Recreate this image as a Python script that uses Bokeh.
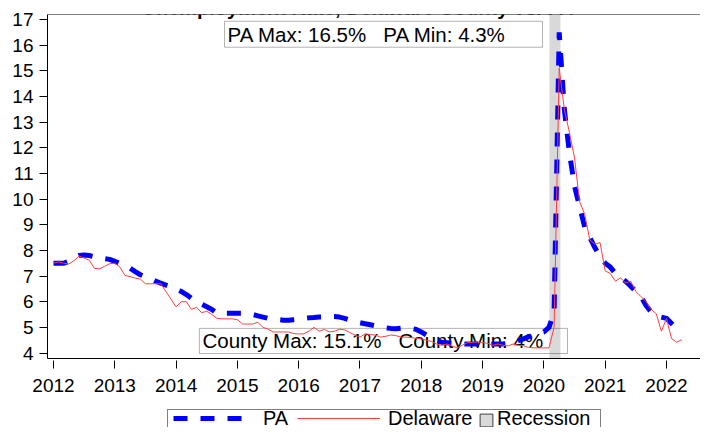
from bokeh.plotting import figure
from bokeh.layouts import column
from bokeh.models import (BoxAnnotation, Label, Legend, LegendItem, LinearAxis,
                          FixedTicker, Range1d)
from bokeh.embed import file_html
from bokeh.resources import INLINE

# ---------------- data ----------------
title_text = "Unemployment Rate, Delaware County vs. PA"
series_names = ["PA", "Delaware", "Recession"]
first_year = 2012  # monthly series starting January 2012

pa_rate = [
    7.5, 7.5, 7.5, 7.58, 7.7, 7.8, 7.82, 7.8, 7.75, 7.72, 7.68, 7.65,      # 2012
    7.57, 7.5, 7.4, 7.3, 7.17, 7.05, 6.97, 6.9, 6.8, 6.72, 6.65, 6.58,     # 2013
    6.5, 6.4, 6.28, 6.13, 6.0, 5.9, 5.8, 5.7, 5.55, 5.55, 5.55, 5.55,      # 2014
    5.55, 5.55, 5.53, 5.5, 5.45, 5.4, 5.35, 5.32, 5.3, 5.28, 5.28, 5.3,    # 2015
    5.32, 5.35, 5.37, 5.38, 5.4, 5.4, 5.42, 5.42, 5.4, 5.35, 5.28, 5.22,   # 2016
    5.18, 5.14, 5.1, 5.06, 5.02, 4.98, 4.96, 4.95, 4.97, 4.97, 4.96, 4.92, # 2017
    4.82, 4.7, 4.6, 4.5, 4.42, 4.4, 4.38, 4.37, 4.36, 4.35, 4.35, 4.35,    # 2018
    4.35, 4.35, 4.35, 4.35, 4.35, 4.37, 4.42, 4.48, 4.55, 4.63, 4.7, 4.78, # 2019
    4.82, 5.0, 5.6, 16.5, 13.5, 11.8, 10.5, 9.7, 8.9, 8.5, 8.1, 7.75,      # 2020
    7.5, 7.35, 7.1, 6.95, 6.8, 6.6, 6.4, 6.2, 5.85, 5.6, 5.45, 5.4,        # 2021
    5.35, 5.15, 4.95, 4.8,                                                 # 2022
]

delaware_rate = [
    7.5, 7.55, 7.5, 7.47, 7.6, 7.78, 7.7, 7.62, 7.3, 7.28, 7.38, 7.48,     # 2012
    7.5, 7.35, 7.02, 6.98, 6.92, 6.88, 6.7, 6.7, 6.7, 6.7, 6.4, 6.1,       # 2013
    5.8, 6.0, 6.0, 5.7, 5.78, 5.57, 5.63, 5.5, 5.35, 5.33, 5.33, 5.33,     # 2014
    5.3, 5.13, 5.13, 5.13, 5.2, 5.0, 4.93, 4.82, 4.82, 4.82, 4.82, 4.76,   # 2015
    4.74, 4.75, 4.85, 5.0, 4.85, 4.92, 4.82, 4.85, 4.93, 4.9, 4.8, 4.7,    # 2016
    4.62, 4.75, 4.72, 4.7, 4.62, 4.65, 4.7, 4.68, 4.62, 4.62, 4.6, 4.57,   # 2017
    4.55, 4.5, 4.45, 4.35, 4.3, 4.35, 4.28, 4.2, 4.3, 4.4, 4.42, 4.43,     # 2018
    4.4, 4.38, 4.3, 4.35, 4.3, 4.28, 4.35, 4.3, 4.28, 4.22, 4.2, 4.2,      # 2019
    4.2, 4.2, 5.0, 15.1, 13.5, 12.6, 11.6, 9.9, 9.4, 8.4, 8.25, 8.3,       # 2020
    7.2, 7.1, 6.8, 6.93, 6.73, 6.8, 6.4, 6.2, 6.0, 5.7, 5.53, 4.85,        # 2021
    5.34, 4.56, 4.42, 4.52,                                                # 2022
]

recession_start = 2020.09
recession_end = 2020.27

x_ticks = list(range(2012, 2023))
y_ticks = list(range(4, 18))

pa_note = "PA Max: 16.5%\u00a0\u00a0 PA Min: 4.3%"
county_note = "County Max: 15.1%\u00a0\u00a0 County Min: 4%"

months = [first_year + i / 12 for i in range(len(pa_rate))]

# ---------------- main figure ----------------
FONT = "Liberation Sans"
PA_COLOR = "#0000ff"
DE_COLOR = "#ff4040"
REC_COLOR = "#d9d9d9"

p = figure(width=700, height=403, output_backend="svg", toolbar_location=None,
           x_range=Range1d(2011.902, 2022.555), y_range=Range1d(3.786, 17.195),
           min_border_left=47, min_border_right=0, min_border_top=14,
           min_border_bottom=45)
p.outline_line_color = None
p.xgrid.visible = False
p.ygrid.visible = False

xa = p.xaxis[0]
xa.ticker = FixedTicker(ticks=x_ticks)
xa.major_tick_in = -2
xa.major_tick_out = 10
xa.minor_tick_line_color = None
xa.major_label_standoff = 10
xa.major_label_text_font = FONT
xa.major_label_text_font_size = "19px"
xa.major_label_text_color = "black"
xa.axis_line_color = "black"
xa.major_tick_line_color = "black"

ya = p.yaxis[0]
ya.ticker = FixedTicker(ticks=y_ticks)
ya.major_tick_in = 0
ya.major_tick_out = 8
ya.minor_tick_line_color = None
ya.major_label_standoff = 6
ya.major_label_text_font = FONT
ya.major_label_text_font_size = "19px"
ya.major_label_text_color = "black"
ya.axis_line_color = "black"
ya.major_tick_line_color = "black"

top_axis = LinearAxis(ticker=FixedTicker(ticks=[]), major_tick_out=0, major_tick_in=0,
                      minor_tick_out=0, minor_tick_in=0, major_label_standoff=0,
                      axis_line_color="#808080", major_label_text_font_size="0px")
p.add_layout(top_axis, "above")

# recession band
band = BoxAnnotation(left=recession_start, right=recession_end,
                     fill_color=REC_COLOR, fill_alpha=1.0, line_color=None,
                     level="underlay")
p.add_layout(band)

# note boxes (drawn below the lines)
box_pa = BoxAnnotation(left=2014.79, right=2019.977, top=16.93, bottom=15.92,
                       fill_color=None, fill_alpha=0, line_color="black", line_width=1,
                       level="underlay")
box_county = BoxAnnotation(left=2014.38, right=2020.385, top=4.96, bottom=3.98,
                           fill_color=None, fill_alpha=0, line_color="black", line_width=1,
                           level="underlay")
p.add_layout(box_pa)
p.add_layout(box_county)

lab_pa = Label(x=2014.84, y=16.42, text=pa_note, text_font=FONT, text_font_size="20.5px",
               text_color="black", text_baseline="middle", level="underlay")
lab_county = Label(x=2014.43, y=4.47, text=county_note, text_font=FONT,
                   text_font_size="20.5px", text_color="black", text_baseline="middle",
                   level="underlay")
p.add_layout(lab_pa)
p.add_layout(lab_county)

title_lab = Label(x=2013.436, y=17.43, text=title_text, text_font=FONT,
                  text_font_size="20px", text_font_style="bold", text_color="black",
                  text_baseline="alphabetic")
p.add_layout(title_lab)

# series
p.line(months, pa_rate, line_color=PA_COLOR, line_width=5, line_dash="14 13")
p.line(months, delaware_rate, line_color=DE_COLOR, line_width=1)

# ---------------- legend strip ----------------
# The strip's own ranges (0..1) keep its copies of the series out of view;
# they only supply the legend glyphs.
lg = figure(width=700, height=24, output_backend="svg", toolbar_location=None,
            x_range=Range1d(0, 1), y_range=Range1d(0, 1),
            x_axis_location=None, y_axis_location=None,
            min_border_left=0, min_border_right=0, min_border_top=0,
            min_border_bottom=0)
lg.outline_line_color = None
lg.xgrid.visible = False
lg.ygrid.visible = False

k_pa = lg.line(months, pa_rate, line_color=PA_COLOR, line_width=5, line_dash="14 13")
k_de = lg.line(months, delaware_rate, line_color=DE_COLOR, line_width=1.2)
k_rec = lg.quad(left=[recession_start], right=[recession_end], top=[max(pa_rate)],
                bottom=[min(delaware_rate)], fill_color=REC_COLOR,
                line_color="#404040", line_width=1)
k_blank = lg.line(months, pa_rate, line_alpha=0)

common = dict(orientation="horizontal", padding=0, margin=0, spacing=0,
              label_text_font=FONT, label_text_font_size="20px",
              label_text_color="black", label_width=0,
              background_fill_alpha=0, border_line_color=None)

# x offsets are measured from the strip's frame, which is aligned with the
# main plot's frame (47 px from the left)
leg_frame = Legend(items=[LegendItem(label="\u00a0", renderers=[k_blank])],
                   location=(120, -14), orientation="horizontal", padding=0, margin=0,
                   glyph_width=432, glyph_height=30, label_height=30, label_width=0,
                   label_standoff=0, label_text_font_size="1px",
                   border_line_color="black", border_line_width=1,
                   background_fill_color="white", background_fill_alpha=1.0)
leg_pa = Legend(items=[LegendItem(label=series_names[0], renderers=[k_pa])],
                location=(126, -3), glyph_width=70, glyph_height=24, label_height=24,
                label_standoff=20, **common)
leg_de = Legend(items=[LegendItem(label=series_names[1], renderers=[k_de])],
                location=(250, -3), glyph_width=83, glyph_height=24, label_height=24,
                label_standoff=8, **common)
leg_rec_box = Legend(items=[LegendItem(label="\u00a0", renderers=[k_rec])],
                     location=(431, -1), orientation="horizontal", padding=0, margin=0,
                     glyph_width=16, glyph_height=16, label_height=16, label_width=0,
                     label_standoff=0, label_text_font_size="1px",
                     background_fill_alpha=0, border_line_color=None)
leg_rec = Legend(items=[LegendItem(label=series_names[2], renderers=[k_blank])],
                 location=(431, -3), glyph_width=16, glyph_height=24, label_height=24,
                 label_standoff=3, **common)
for item in (leg_frame, leg_pa, leg_de, leg_rec_box, leg_rec):
    lg.add_layout(item)

layout = column(p, lg, spacing=0)
open("out.html", "w").write(file_html(layout, INLINE))
